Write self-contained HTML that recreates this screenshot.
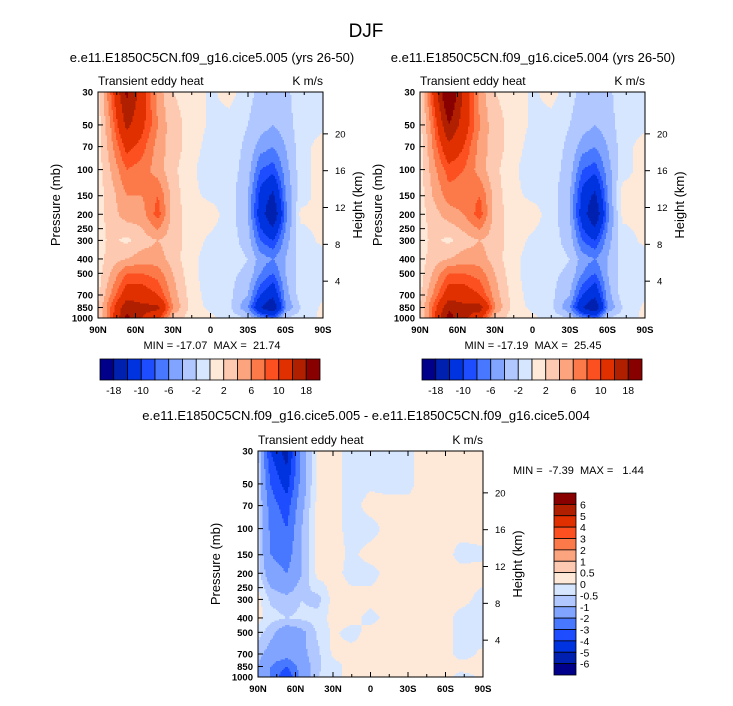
<!DOCTYPE html>
<html><head><meta charset="utf-8">
<style>
html,body{margin:0;padding:0;background:#fff;}
svg text{font-family:"Liberation Sans",Arial,sans-serif;fill:#000;white-space:pre;}
</style></head>
<body>
<svg id="fig" width="733" height="701" viewBox="0 0 733 701" xmlns="http://www.w3.org/2000/svg">
<text x="366" y="37" font-size="19" text-anchor="middle">DJF</text>
</svg>
<script>
// ---------- data ----------
const lats = [90,80,67,55,42,30,15,0,-15,-30,-40,-50,-60,-72,-90];
const levels = [30,50,70,100,150,200,300,400,500,700,850,1000];
const pTicks = [30,50,70,100,150,200,250,300,400,500,700,850,1000];
const latTicks = [90,60,30,0,-30,-60,-90];
const latTickLabels = ["90N","60N","30N","0","30S","60S","90S"];
const hTicks = [4,8,12,16,20];
const bounds1 = [-18,-14,-10,-8,-6,-4,-2,0,2,4,6,8,10,14,18];
const bounds1Labels = ["-18","-10","-6","-2","2","6","10","18"];
const bounds3 = [-6,-5,-4,-3,-2,-1,-0.5,0,0.5,1,2,3,4,5,6];
const colors = ["#00008a","#0021b0","#0033e0","#1e4dff","#4878ff","#80a4ff","#b0c8ff","#d6e6ff","#fee9d8","#fdc9b0","#fca47e","#fc7a4a","#fc5020","#e03000","#b02000","#880000"];
// field values: one array per latitude column, ordered by levels
const field1 = [
[1,1,1,1,1,1,1,1,1,1.5,2,2],
[8,6,5,4,3,3,2.5,3,4,6,8,8],
[19,15,11,8,6,5,1.5,4,8,12,17,19],
[12,11,9,7,6,5,3,5,8,12,15,14],
[5,6,5,5,8,9,4,5,7,10,15,11],
[2,2.5,3,2.5,3,3,3,3,4,5,6,3],
[1.5,1.5,1,0.5,0.5,1,1,0.5,0.5,1,1,1],
[-0.5,-0.5,-1,-1.5,-0.5,1,-0.5,-1,-1,-1,-0.5,0.5],
[1,-1,-1,-1,-1,-1,-1,-1,-1.5,-1.5,-1.5,-1],
[-1.5,-2,-2.5,-3,-4,-4,-3,-2,-2.5,-4,-6,-2],
[-2.5,-3,-5,-8,-11,-12,-8,-5,-6,-10,-14,-6],
[-3,-4,-6,-9,-15,-18,-10,-6,-8,-13,-18,-8],
[-2.5,-3,-4,-5,-6,-7,-5,-4,-4,-5,-6,-2],
[-1,-1,-1,-1,-1,0.5,-1,-1,-1,-1,-2,-1],
[-1,-0.5,1,1,1,0.5,0.5,-1,-1,-0.5,0.5,0.5]];
const field2 = [
[1,1,1,1,1,1,1,1,1,1.5,2,2],
[10,7,6,5,4,3,2.5,3,4,6,8,8],
[24,18,13,9,7,5,1.5,4,8,12,17,20],
[13,12,10,8,7,6,3,5,8,12,15,15],
[5,6,5,5,8,9,4,5,7,10,16,11],
[2,2.5,3,2.5,3,3,3,3,4,5,6,3],
[1.5,1.5,1,0.5,0.5,1,1,0.5,0.5,1,1,1],
[-0.5,-0.5,-1,-1.5,-0.5,1,-0.5,-1,-1,-1,-0.5,0.5],
[1,-1,-1,-1,-1,-1,-1,-1,-1.5,-1.5,-1.5,-1],
[-1.5,-2,-2.5,-3,-4,-4,-3,-2,-2.5,-4,-6,-2],
[-2.5,-3,-5,-8,-11,-12,-8,-5,-6,-10,-14,-6],
[-3,-4,-6,-9,-15,-18,-10,-6,-8,-13,-18,-8],
[-2.5,-3,-4,-5,-6,-7,-5,-4,-4,-5,-6,-2],
[-1,-1,-1,-1,1,0.5,-1,-1,-1,-1,-2,-1],
[-1,-0.5,1,1,1,0.5,0.5,-1,-1,-0.5,0.5,0.5]];
const field3 = [
[-0.3,-0.3,-0.3,-0.3,-0.3,-0.3,0.2,0.2,-0.3,-0.8,-1,-1],
[-4,-3,-2.5,-2.2,-2,-1.5,-0.6,-0.3,-0.8,-1.3,-2,-2],
[-5.5,-4.5,-3.5,-3,-2.5,-2,-0.8,-0.5,-1.5,-1.5,-3,-4],
[-1.5,-1.5,-1.2,-1,-1,-1,-0.5,-0.4,-1.2,-1.2,-1.5,-1.5],
[0.2,0.2,0.2,0.2,0.2,0.2,-0.7,-0.3,-0.4,-0.6,-0.6,-0.5],
[0.2,0.2,0.2,0.2,0.2,0.2,0.2,0.2,0.1,0.1,-0.2,-0.2],
[-0.2,-0.2,-0.2,-0.2,-0.1,-0.2,0.2,0.2,-0.2,0.2,0.2,0.2],
[-0.2,-0.1,0.2,-0.2,0.2,-0.2,0.2,-0.2,0.2,0.2,0.2,0.2],
[-0.2,-0.2,0.2,0.2,0.2,0.2,0.2,0.2,0.2,0.2,0.2,0.2],
[-0.2,-0.2,0.2,0.2,0.2,0.2,0.2,0.2,0.2,0.2,0.2,0.2],
[0.2,0.2,0.2,0.2,0.2,0.2,0.2,0.2,0.2,0.2,0.2,0.2],
[0.2,0.2,0.2,0.2,0.2,0.2,0.2,0.2,0.2,0.2,0.2,0.2],
[0.2,0.2,0.2,0.2,0.2,0.2,0.2,0.2,0.2,0.2,0.2,0.2],
[0.2,0.2,0.2,0.2,-0.2,0.2,0.2,-0.2,-0.2,-0.2,0.2,-0.2],
[0.2,0.2,0.2,0.2,-0.1,0.2,-0.2,-0.2,-0.2,0.1,0.1,0.1]];

// ---------- rendering ----------
const NS="http://www.w3.org/2000/svg";
const svg=document.getElementById('fig');
function mk(tag,attrs,parent){const e=document.createElementNS(NS,tag);for(const k in attrs)e.setAttribute(k,attrs[k]);(parent||svg).appendChild(e);return e;}
function txt(s,x,y,size,anchor,parent,extra){const t=mk('text',Object.assign({x:x,y:y,'font-size':size,'text-anchor':anchor||'start'},extra||{}),parent);t.textContent=s;return t;}
function colorFor(v,b){let i=0;while(i<b.length&&v>=b[i])i++;return colors[i];}
function sample(field,lat,p){
  let i=0;while(i<lats.length-2&&lat<lats[i+1])i++;
  let fx=(lats[i]-lat)/(lats[i]-lats[i+1]);fx=Math.max(0,Math.min(1,fx));
  const lp=Math.log(p);let j=0;while(j<levels.length-2&&p>levels[j+1])j++;
  let fy=(lp-Math.log(levels[j]))/(Math.log(levels[j+1])-Math.log(levels[j]));fy=Math.max(0,Math.min(1,fy));
  const a=field[i][j],b=field[i+1][j],c=field[i][j+1],d=field[i+1][j+1];
  return a*(1-fx)*(1-fy)+b*fx*(1-fy)+c*(1-fx)*fy+d*fx*fy;
}
function panel(opt){
  const {x0,y0,w,h,field,bounds,name}=opt;
  const g=mk('g',{},svg);
  
  
  const xS=lat=>x0+(90-lat)/180*w;
  const yS=p=>y0+Math.log(p/30)/Math.log(1000/30)*h;
  const pInv=y=>30*Math.exp((y-y0)/h*Math.log(1000/30));
  const latInv=x=>90-(x-x0)/w*180;
  const cs=1.5;
  const cells=mk('g',{},g);
  
  
  const addRun=(x1,x2,y,hh,col)=>{
    const r=mk('rect',{x:x1,y:y,width:x2-x1+0.4,height:hh+0.4,fill:col},cells);
    
    
  };
  for(let y=y0;y<y0+h;y+=cs){
    const hh=Math.min(cs,y0+h-y);
    let runStart=x0,runCol=null;
    for(let x=x0;x<x0+w;x+=cs){
      const ww=Math.min(cs,x0+w-x);
      const col=colorFor(sample(field,latInv(x+ww/2),pInv(y+hh/2)),bounds);
      if(col!==runCol){
        if(runCol)addRun(runStart,x,y,hh,runCol);
        runStart=x;runCol=col;
      }
    }
    if(runCol)addRun(runStart,x0+w,y,hh,runCol);
  }
  const frame=mk('rect',{x:x0,y:y0,width:w,height:h,fill:'none',stroke:'#000','stroke-width':1},g);
  
  
  const ya=mk('g',{},g);
  
  
  pTicks.forEach(p=>{const y=yS(p);mk('line',{x1:x0,x2:x0+5,y1:y,y2:y,stroke:'#000'},ya);
    txt(String(p),x0-5,y+3.5,9.5,'end',ya,{'font-weight':'bold'});});
  const xa=mk('g',{},g);
  
  
  latTicks.forEach((l,k)=>{const x=xS(l);mk('line',{x1:x,x2:x,y1:y0+h,y2:y0+h-5,stroke:'#000'},xa);mk('line',{x1:x,x2:x,y1:y0,y2:y0+5,stroke:'#000'},xa);
    txt(latTickLabels[k],x,y0+h+15,9.5,'middle',xa,{'font-weight':'bold'});});
  for(let l=75;l>-90;l-=15){if(l%30===0)continue;const x=xS(l);mk('line',{x1:x,x2:x,y1:y0+h,y2:y0+h-3,stroke:'#000'},xa);mk('line',{x1:x,x2:x,y1:y0,y2:y0+3,stroke:'#000'},xa);}
  const ha=mk('g',{},g);
  
  
  hTicks.forEach(z=>{const y=yS(1000*Math.exp(-z/7));mk('line',{x1:x0+w,x2:x0+w+5,y1:y,y2:y,stroke:'#000'},ha);
    txt(String(z),x0+w+12,y+3.5,9.5,'start',ha);});
  const pl=txt('Pressure (mb)',0,0,13,'middle',g,{transform:`translate(${x0-38},${y0+h/2}) rotate(-90)`});
  
  
  const hl=txt('Height (km)',0,0,13,'middle',g,{transform:`translate(${x0+w+39},${y0+h/2}) rotate(-90)`});
  
  
  const l1=txt('Transient eddy heat',x0,y0-7,12,'start',g);
  
  
  const l2=txt('K m/s',x0+w,y0-7,12,'end',g);
  
  
  const t=txt(opt.title,opt.tx,opt.ty,13,'middle',g);
  
  
  const m=txt(opt.minmax,opt.mx,opt.my,11,opt.manchor||'middle',g);
  
  
}
function hbar(x0,y0,w,h,name){
  const g=mk('g',{},svg);
  
  
  const bw=w/colors.length;
  colors.forEach((c,i)=>{const r=mk('rect',{x:x0+i*bw,y:y0,width:bw,height:h,fill:c,stroke:'#000','stroke-width':0.8},g);
    
    });
  bounds1Labels.forEach((s,k)=>{txt(s,x0+bw*(1+2*k),y0+h+14,10.5,'middle',g);});
}
function vbar(x0,y0,w,h,name){
  const g=mk('g',{},svg);
  
  
  const bh=h/colors.length;
  colors.slice().reverse().forEach((c,i)=>{const r=mk('rect',{x:x0,y:y0+i*bh,width:w,height:bh,fill:c,stroke:'#000','stroke-width':0.8},g);
    
    });
  bounds3.slice().reverse().forEach((b,k)=>{txt(String(b),x0+w+4,y0+bh*(k+1)+4,10.5,'start',g);});
}
panel({x0:98,y0:92,w:225,h:226,field:field1,bounds:bounds1,name:'panel-005',
  title:'e.e11.E1850C5CN.f09_g16.cice5.005 (yrs 26-50)',tx:212,ty:62,minmax:'MIN = -17.07  MAX =  21.74',mx:212,my:349});
panel({x0:420,y0:92,w:225,h:226,field:field2,bounds:bounds1,name:'panel-004',
  title:'e.e11.E1850C5CN.f09_g16.cice5.004 (yrs 26-50)',tx:533,ty:62,minmax:'MIN = -17.19  MAX =  25.45',mx:533,my:349});
panel({x0:258,y0:451,w:225,h:226,field:field3,bounds:bounds3,name:'panel-difference',
  title:'e.e11.E1850C5CN.f09_g16.cice5.005 - e.e11.E1850C5CN.f09_g16.cice5.004',tx:366,ty:420,minmax:'MIN =  -7.39  MAX =   1.44',mx:513,my:474,manchor:'start'});
hbar(100,359,220,21,'colorbar-005');
hbar(422,359,220,21,'colorbar-004');
vbar(554,493,22,182,'colorbar-difference');
</script>
</body></html>
